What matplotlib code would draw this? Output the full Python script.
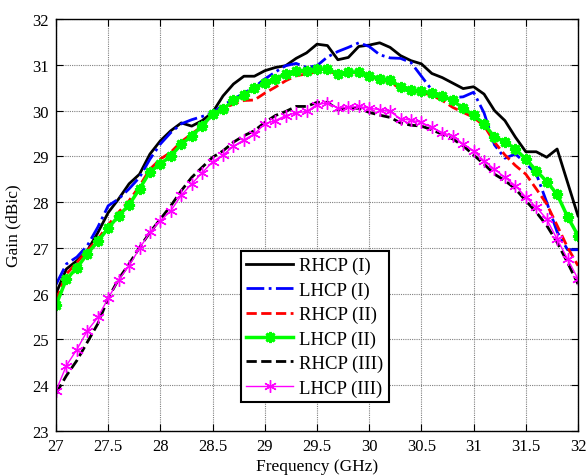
import numpy as np
import matplotlib
matplotlib.use('Agg')
import matplotlib.pyplot as plt

plt.rcParams['font.family'] = ['Liberation Serif', 'DejaVu Serif']

# frequency samples, 0.1 GHz step
freq = np.arange(270, 321) / 10.0

rhcp1 = [26.0, 26.54, 26.72, 26.94, 27.33, 27.77, 28.07, 28.40, 28.61, 29.05,
         29.34, 29.56, 29.73, 29.66, 29.78, 29.96, 30.32, 30.58, 30.75, 30.75,
         30.87, 30.94, 30.98, 31.14, 31.26, 31.45, 31.42, 31.11, 31.16, 31.40,
         31.43, 31.48, 31.38, 31.20, 31.09, 31.02, 30.81, 30.72, 30.60, 30.48,
         30.52, 30.36, 30.00, 29.78, 29.42, 29.10, 29.10, 28.98, 29.16, 28.43,
         27.70]
lhcp1 = [26.2, 26.65, 26.80, 27.05, 27.45, 27.92, 28.07, 28.29, 28.54, 28.94,
         29.27, 29.52, 29.71, 29.80, 29.87, 29.96, 30.11, 30.25, 30.38, 30.51,
         30.69, 30.84, 30.98, 31.03, 30.94, 30.98, 31.17, 31.29, 31.38, 31.48,
         31.40, 31.22, 31.15, 31.14, 31.05, 30.75, 30.45, 30.26, 30.28, 30.30,
         30.40, 29.95, 29.25, 28.96, 29.05, 28.85, 28.62, 28.00, 27.35, 26.96,
         26.96]
rhcp2 = [25.85, 26.43, 26.68, 26.94, 27.19, 27.50, 27.78, 28.03, 28.35, 28.72,
         28.94, 29.09, 29.32, 29.49, 29.66, 29.93, 30.05, 30.14, 30.22, 30.23,
         30.38, 30.51, 30.65, 30.76, 30.80, 30.85, 30.88, 30.78, 30.83, 30.82,
         30.75, 30.68, 30.62, 30.48, 30.42, 30.40, 30.33, 30.22, 30.07, 29.96,
         29.85, 29.67, 29.31, 29.03, 28.80, 28.61, 28.29, 27.96, 27.49, 27.01,
         26.61]
lhcp2 = [25.75, 26.32, 26.56, 26.87, 27.14, 27.43, 27.70, 27.94, 28.29, 28.66,
         28.83, 29.01, 29.26, 29.45, 29.66, 29.92, 30.03, 30.22, 30.34, 30.49,
         30.60, 30.70, 30.80, 30.87, 30.87, 30.91, 30.91, 30.80, 30.85, 30.84,
         30.76, 30.70, 30.67, 30.52, 30.45, 30.43, 30.38, 30.32, 30.22, 30.05,
         29.90, 29.71, 29.42, 29.32, 29.16, 28.94, 28.69, 28.45, 28.17, 27.68,
         27.27]
rhcp3 = [23.82, 24.21, 24.54, 24.94, 25.34, 25.90, 26.32, 26.65, 27.01, 27.34,
         27.63, 27.92, 28.25, 28.54, 28.76, 28.98, 29.12, 29.31, 29.45, 29.56,
         29.74, 29.89, 29.98, 30.09, 30.09, 30.18, 30.18, 30.02, 30.05, 30.05,
         29.96, 29.90, 29.85, 29.73, 29.68, 29.66, 29.58, 29.48, 29.38, 29.23,
         29.03, 28.83, 28.61, 28.47, 28.29, 28.03, 27.78, 27.49, 27.12, 26.68,
         26.21]
lhcp3 = [23.88, 24.43, 24.78, 25.19, 25.48, 25.90, 26.30, 26.61, 26.99, 27.34,
         27.59, 27.81, 28.15, 28.40, 28.64, 28.88, 29.03, 29.22, 29.36, 29.49,
         29.71, 29.78, 29.89, 29.95, 29.98, 30.13, 30.17, 30.05, 30.07, 30.09,
         30.05, 30.02, 29.98, 29.82, 29.79, 29.74, 29.63, 29.52, 29.44, 29.27,
         29.12, 28.90, 28.72, 28.54, 28.36, 28.11, 27.89, 27.63, 27.19, 26.76,
         26.32]

labels = ['RHCP (I)', 'LHCP (I)', 'RHCP (II)', 'LHCP (II)', 'RHCP (III)', 'LHCP (III)']
xticks = np.arange(27, 32.01, 0.5)
yticks = np.arange(23, 33, 1)

fig = plt.figure(figsize=(5.86, 4.77), dpi=100)
ax = fig.add_axes([56/586, 1 - 432/477, 522/586, 412/477])

ax.plot(freq, rhcp1, color='k', lw=2.0, label=labels[0])
ax.plot(freq, lhcp1, color='b', lw=2.0, ls='-.', label=labels[1])
ax.plot(freq, rhcp2, color='r', lw=2.0, ls='--', label=labels[2])
ax.plot(freq, lhcp2, color=(0, 1, 0), lw=2.5, marker=(8, 2, 0), ms=8, mew=2.0, label=labels[3])
ax.plot(freq, rhcp3, color='k', lw=2.0, ls='--', label=labels[4])
ax.plot(freq, lhcp3, color=(1, 0, 1), lw=1.0, marker=(6, 2, 0), ms=9, mew=1.0, label=labels[5])

ax.set_xlim(27, 32)
ax.set_ylim(23, 32)
ax.set_xticks(xticks)
ax.set_xticklabels(['27', '27.5', '28', '28.5', '29', '29.5', '30', '30.5', '31', '31.5', '32'])
ax.set_yticks(yticks)
ax.tick_params(direction='in', length=5, top=True, right=True, labelsize=12, pad=5)
ax.grid(True, color='0.5', ls=(0, (1, 1)), lw=0.8)
for s in ax.spines.values():
    s.set_linewidth(1.0)

ax.set_xlabel('Frequency (GHz)', fontsize=12.5, labelpad=3)
ax.set_ylabel('Gain (dBic)', fontsize=12.5, labelpad=8)

leg = ax.legend(loc='lower left', bbox_to_anchor=(0.354, 0.070), fontsize=13.5,
                frameon=True, fancybox=False, edgecolor='k', framealpha=1,
                handlelength=2.5, handletextpad=0.3, labelspacing=0.38,
                borderpad=0.3, borderaxespad=0)
leg.get_frame().set_linewidth(1.5)

fig.savefig('out.png', dpi=100)
